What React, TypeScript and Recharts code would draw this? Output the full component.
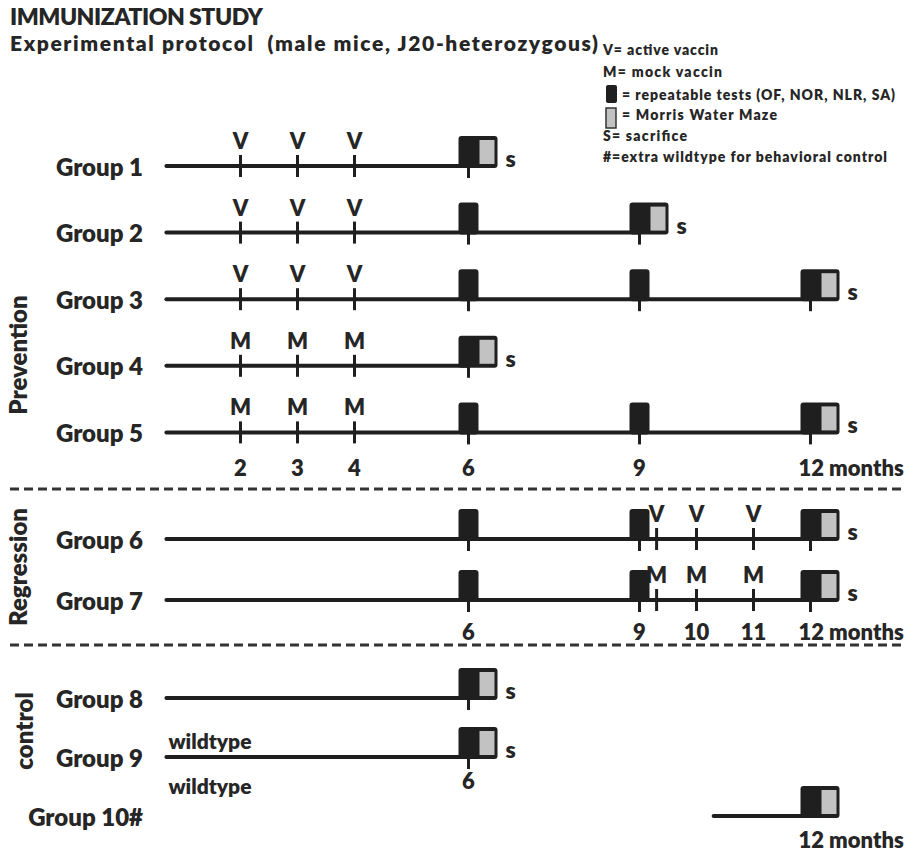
import React from 'react';
import { ScatterChart, Scatter, XAxis, YAxis, ReferenceLine, Customized } from 'recharts';

// ---------- data ----------
const GROUP_LABELS = ['Group 1', 'Group 2', 'Group 3', 'Group 4', 'Group 5', 'Group 6', 'Group 7', 'Group 8', 'Group 9', 'Group 10#'];
const PREVENTION_GROUPS = [1, 2, 3, 4, 5];
const REGRESSION_GROUPS = [6, 7];
const CONTROL_GROUPS = [8, 9, 10];

const TIMELINE_START = [0.7, 0.7, 0.7, 0.7, 0.7, 0.7, 0.7, 0.7, 0.7, 10.3];
const TIMELINE_END = [6, 9, 12, 6, 12, 12, 12, 6, 6, 12];

const PREVENTION_VACCINE_MONTHS = [2, 3, 4];
const REGRESSION_VACCINE_MONTHS = [9.3, 10, 11];
const VACCINE_TYPE: Record<number, string> = { 1: 'V', 2: 'V', 3: 'V', 4: 'M', 5: 'M', 6: 'V', 7: 'M' };

// repeatable tests (black) and Morris Water Maze (black + grey) per group
const REPEATABLE_TESTS: Record<number, number[]> = { 1: [], 2: [6], 3: [6, 9], 4: [], 5: [6, 9], 6: [6, 9], 7: [6, 9], 8: [], 9: [], 10: [] };
const MWM_TEST: Record<number, number> = { 1: 6, 2: 9, 3: 12, 4: 6, 5: 12, 6: 12, 7: 12, 8: 6, 9: 6, 10: 12 };
const SACRIFICED = [1, 2, 3, 4, 5, 6, 7, 8, 9];

const PREVENTION_MONTH_LABELS = [2, 3, 4, 6, 9, 12];
const REGRESSION_MONTH_LABELS = [6, 9, 10, 11, 12];
const CONTROL_MONTH_LABELS = [{ group: 9, month: 6 }, { group: 10, month: 12 }];
const WILDTYPE_GROUPS = [9, 10];

const LEGEND_LINES = [
  'V= active vaccin',
  'M= mock vaccin',
  '= repeatable tests (OF, NOR, NLR, SA)',
  '= Morris Water Maze',
  'S= sacrifice',
  '#=extra wildtype for behavioral control',
];

// ---------- styles ----------
const FONT = 'Lato, "Open Sans", sans-serif';
const W = 800;
const INK = '#1f1f1f';
const TEXT = '#262626';
const GREY = '#c2c2c2';

const vaccData = (groups: number[], months: number[]) =>
  groups.flatMap((g) => months.map((m) => ({ x: m, y: g, type: VACCINE_TYPE[g] })));
const rtData = (groups: number[]) => groups.flatMap((g) => REPEATABLE_TESTS[g].map((m) => ({ x: m, y: g })));
const mwmData = (groups: number[]) =>
  groups.map((g) => ({ x: MWM_TEST[g], y: g, s: SACRIFICED.includes(g), tick: g !== 10 }));

const VaccShape = (p: any) => {
  const { cx, cy, payload } = p;
  return (
    <g>
      <line x1={cx} x2={cx} y1={cy - 11} y2={cy + 11} stroke={INK} strokeWidth={3} />
      <text x={cx} y={cy - 17} textAnchor="middle" fontFamily={FONT} fontWeight={W} fontSize={22} fill={TEXT}>
        {payload.type}
      </text>
    </g>
  );
};

const RtShape = (p: any) => {
  const { cx, cy } = p;
  return (
    <g>
      <line x1={cx} x2={cx} y1={cy} y2={cy + 12} stroke={INK} strokeWidth={3} />
      <rect x={cx - 10} y={cy - 30} width={20} height={32} rx={3} fill={INK} />
    </g>
  );
};

const MwmShape = (p: any) => {
  const { cx, cy, payload } = p;
  return (
    <g>
      {payload.tick && <line x1={cx} x2={cx} y1={cy} y2={cy + 12} stroke={INK} strokeWidth={3} />}
      <rect x={cx - 10} y={cy - 30} width={39} height={32} rx={3} fill={INK} />
      <rect x={cx + 11} y={cy - 26} width={15} height={24} fill={GREY} />
      {payload.s && (
        <text x={cx + 37} y={cy + 1} fontFamily={FONT} fontWeight={W} fontSize={23} fill={TEXT}>
          s
        </text>
      )}
    </g>
  );
};

const monthShape = (dy: number) => (p: any) => {
  const { cx, cy, payload } = p;
  if (payload.x === 12) {
    return (
      <text x={cx - 12} y={cy + dy} textAnchor="start" fontFamily={FONT} fontWeight={W} fontSize={22} fill={TEXT}>
        12 months
      </text>
    );
  }
  return (
    <text x={cx} y={cy + dy} textAnchor="middle" fontFamily={FONT} fontWeight={W} fontSize={22} fill={TEXT}>
      {payload.x}
    </text>
  );
};

const WILD_DY: Record<number, number> = { 9: -8, 10: -22 };
const WildShape = (p: any) => {
  const { cx, cy, payload } = p;
  return (
    <text x={cx + 2} y={cy + WILD_DY[payload.y]} fontFamily={FONT} fontWeight={W} fontSize={21} fill={TEXT}>
      wildtype
    </text>
  );
};

const GroupTick = (p: any) => {
  const { x, y, payload } = p;
  return (
    <text x={x} y={y + 9.5} textAnchor="end" fontFamily={FONT} fontWeight={W} fontSize={24} fill={TEXT}>
      {GROUP_LABELS[payload.value - 1]}
    </text>
  );
};

const Separator = ({ y }: { y: number }) => (
  <line x1={10} x2={906} y1={y} y2={y} stroke="#333" strokeWidth={3} strokeDasharray="9 5" />
);

const SectionLabel = ({ x, y, text }: { x: number; y: number; text: string }) => (
  <text
    x={x}
    y={y}
    transform={`rotate(-90 ${x} ${y})`}
    textAnchor="middle"
    fontFamily={FONT}
    fontWeight={W}
    fontSize={24}
    fill={TEXT}
  >
    {text}
  </text>
);

const TitleBlock = () => (
  <g fontFamily={FONT} fontWeight={W} fill={TEXT}>
    <text x={10} y={25} fontSize={23} textLength={253}>IMMUNIZATION STUDY</text>
    <text x={10} y={51} fontSize={21} textLength={588} style={{ whiteSpace: 'pre' }}>
      Experimental protocol  (male mice, J20-heterozygous)
    </text>
    <text x={603} y={55} fontSize={14} textLength={115}>{LEGEND_LINES[0]}</text>
    <text x={603} y={77} fontSize={14} textLength={119}>{LEGEND_LINES[1]}</text>
    <rect x={606} y={85} width={11} height={18} rx={2} fill={INK} />
    <text x={622} y={100} fontSize={14} textLength={273}>{LEGEND_LINES[2]}</text>
    <rect x={606} y={108} width={10} height={20} fill={GREY} stroke="#333" strokeWidth={1.5} />
    <text x={622} y={120} fontSize={14} textLength={155}>{LEGEND_LINES[3]}</text>
    <text x={603} y={141} fontSize={14} textLength={84}>{LEGEND_LINES[4]}</text>
    <text x={603} y={162} fontSize={14} textLength={284}>{LEGEND_LINES[5]}</text>
  </g>
);

type SectionProps = {
  top: number;
  height: number;
  margin: { top: number; bottom: number };
  groups: number[];
  domain: [number, number];
  vaccMonths: number[] | null;
  monthLabels: { x: number; y: number }[];
  monthDy: number;
  extra: React.ReactNode;
  wild?: boolean;
};

const Section = ({ top, height, margin, groups, domain, vaccMonths, monthLabels, monthDy, extra, wild }: SectionProps) => (
  <div style={{ position: 'absolute', left: 0, top, width: 918, height }}>
    <ScatterChart width={918} height={height} margin={{ top: margin.top, bottom: margin.bottom, left: 0, right: 22 }}>
      <XAxis type="number" dataKey="x" domain={[0.5, 13.5]} hide />
      <YAxis
        type="number"
        dataKey="y"
        domain={domain}
        reversed
        ticks={groups}
        interval={0}
        width={155}
        tickSize={0}
        tickMargin={12}
        axisLine={false}
        tickLine={false}
        tick={(p: any) => <GroupTick {...p} />}
      />
      <Customized component={() => <g>{extra}</g>} />
      {groups.map((g) => (
        <ReferenceLine
          key={g}
          segment={[
            { x: TIMELINE_START[g - 1], y: g },
            { x: TIMELINE_END[g - 1], y: g },
          ]}
          stroke={INK}
          strokeWidth={4}
          strokeLinecap="round"
        />
      ))}
      {vaccMonths && (
        <Scatter data={vaccData(groups, vaccMonths)} shape={VaccShape} isAnimationActive={false} />
      )}
      <Scatter data={rtData(groups)} shape={RtShape} isAnimationActive={false} />
      <Scatter data={mwmData(groups)} shape={MwmShape} isAnimationActive={false} />
      <Scatter data={monthLabels} shape={monthShape(monthDy)} isAnimationActive={false} />
      {wild && (
        <Scatter
          data={WILDTYPE_GROUPS.map((g) => ({ x: TIMELINE_START[0], y: g }))}
          shape={WildShape}
          isAnimationActive={false}
        />
      )}
    </ScatterChart>
  </div>
);

export default function App() {
  return (
    <div style={{ position: 'absolute', left: 0, top: 0, width: 918, height: 855, background: '#fff' }}>
      <Section
        top={0}
        height={495}
        margin={{ top: 132.7, bottom: 29.3 }}
        groups={PREVENTION_GROUPS}
        domain={[0.5, 5.5]}
        vaccMonths={PREVENTION_VACCINE_MONTHS}
        monthLabels={PREVENTION_MONTH_LABELS.map((m) => ({ x: m, y: 5 }))}
        monthDy={44}
        extra={
          <>
            <TitleBlock />
            <SectionLabel x={27} y={355} text={'Prevention'} />
            <Separator y={489} />
          </>
        }
      />
      <Section
        top={495}
        height={155}
        margin={{ top: 13.5, bottom: 19.5 }}
        groups={REGRESSION_GROUPS}
        domain={[5.5, 7.5]}
        vaccMonths={REGRESSION_VACCINE_MONTHS}
        monthLabels={REGRESSION_MONTH_LABELS.map((m) => ({ x: m, y: 7 }))}
        monthDy={40}
        extra={
          <>
            <SectionLabel x={27} y={72} text={'Regression'} />
            <Separator y={150} />
          </>
        }
      />
      <Section
        top={650}
        height={205}
        margin={{ top: 18.5, bottom: 9.5 }}
        groups={CONTROL_GROUPS}
        domain={[7.5, 10.5]}
        vaccMonths={null}
        monthLabels={CONTROL_MONTH_LABELS.map((d) => ({ x: d.month, y: d.group }))}
        monthDy={32}
        wild
        extra={<SectionLabel x={33} y={81} text={'control'} />}
      />
    </div>
  );
}
